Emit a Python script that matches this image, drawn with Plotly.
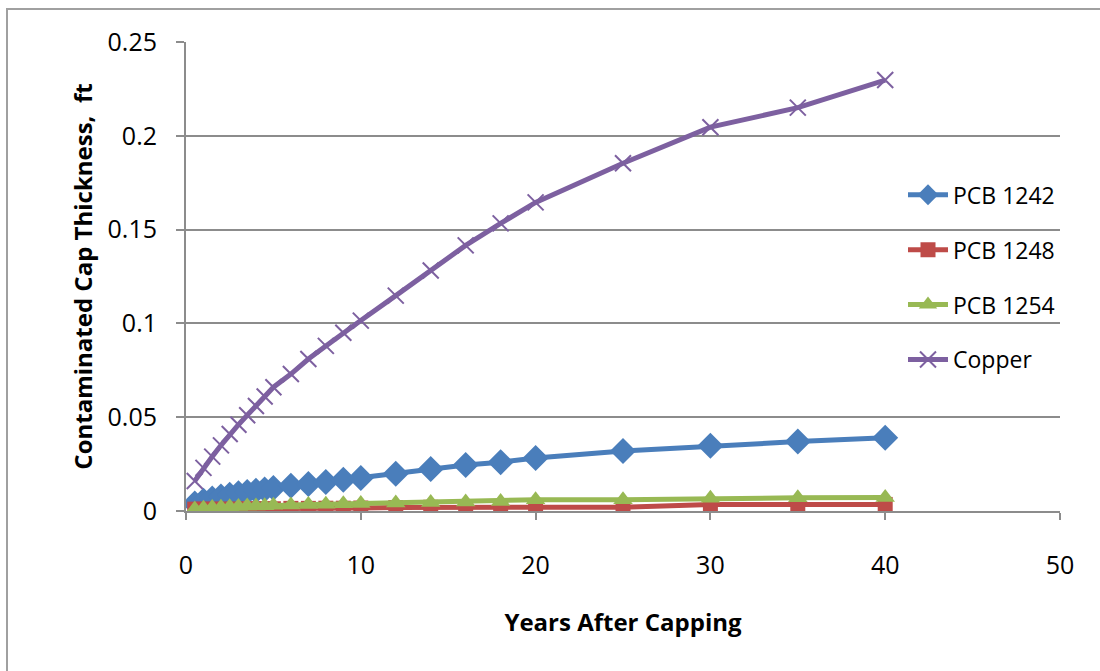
import plotly.graph_objects as go

# Years after capping at which each contaminant front was evaluated
years = [0.5, 1, 1.5, 2, 2.5, 3, 3.5, 4, 4.5, 5, 6, 7, 8, 9, 10,
         12, 14, 16, 18, 20, 25, 30, 35, 40]

# Contaminated cap thickness (ft)
pcb_1242 = [0.004, 0.0055, 0.0067, 0.0077, 0.0086, 0.0094, 0.0101, 0.0108, 0.0115, 0.0123,
            0.0134, 0.0144, 0.0155, 0.0166, 0.0176,
            0.0198, 0.0224, 0.0245, 0.026, 0.0282, 0.032, 0.0348, 0.037, 0.039]
pcb_1248 = [0.001, 0.001, 0.001, 0.001, 0.001, 0.001, 0.0012, 0.0012, 0.0012, 0.0012,
            0.0014, 0.0014, 0.0015, 0.0015, 0.0016,
            0.0018, 0.002, 0.002, 0.002, 0.002, 0.002, 0.0035, 0.0035, 0.0035]
pcb_1254 = [0.001, 0.0015, 0.0018, 0.002, 0.0022, 0.0024, 0.0026, 0.0027, 0.0028, 0.003,
            0.0032, 0.0034, 0.0036, 0.0038, 0.004,
            0.0042, 0.0045, 0.0048, 0.005, 0.006, 0.006, 0.0068, 0.007, 0.0072]
copper = [0.016, 0.023, 0.029, 0.035, 0.041, 0.046, 0.051, 0.056, 0.061, 0.066,
          0.073, 0.081, 0.088, 0.095, 0.1015,
          0.1148, 0.1282, 0.1416, 0.1533, 0.1645, 0.1854, 0.2046, 0.215, 0.2297]

series = [
    ("PCB 1242", pcb_1242, "#4A7EBB", "diamond", 20, 0),
    ("PCB 1248", pcb_1248, "#BE4B48", "square", 15, 0),
    ("PCB 1254", pcb_1254, "#98B954", "triangle-up", 17, 0),
    ("Copper", copper, "#7D60A0", "x-thin", 16, 2),
]

FONT = "Open Sans"
GRID = "#8C8C8C"

fig = go.Figure()
for name, vals, color, symbol, size, mlw in series:
    fig.add_trace(go.Scatter(
        x=years, y=vals, name=name, mode="lines+markers",
        legendgroup=name,
        line=dict(color=color, width=5),
        marker=dict(symbol=symbol, size=size, color=color,
                    line=dict(color=color, width=mlw)),
    ))

W, H = 1100, 671
ML, MR, MT, MB = 186, 40, 42, 160
pw, ph = W - ML - MR, H - MT - MB

fig.update_layout(
    width=W, height=H,
    margin=dict(l=ML, r=MR, t=MT, b=MB),
    paper_bgcolor="white", plot_bgcolor="white",
    font=dict(family=FONT, size=25, color="black"),
    showlegend=True,
    legend=dict(x=1.0, xanchor="right", y=0.72, yanchor="top",
                bgcolor="rgba(0,0,0,0)", font=dict(size=23, family=FONT),
                tracegroupgap=22, itemwidth=40),
    xaxis=dict(range=[0, 50], dtick=10, showgrid=False, zeroline=False,
               showline=True, linecolor=GRID, linewidth=2,
               ticks="outside", ticklen=7, tickcolor=GRID, tickwidth=2,
               ticklabelstandoff=24,
               title=dict(text="<b>Years After Capping</b>", standoff=34,
                          font=dict(size=24, family=FONT))),
    yaxis=dict(range=[0, 0.25], dtick=0.05, showgrid=True, gridcolor=GRID,
               gridwidth=2, zeroline=False,
               showline=True, linecolor=GRID, linewidth=2,
               ticks="outside", ticklen=8, tickcolor=GRID, tickwidth=2,
               ticklabelstandoff=14,
               title=dict(text="<b>Contaminated Cap Thickness,  ft</b>", standoff=8,
                          font=dict(size=24, family=FONT))),
)

# Chart frame around the whole figure
fig.add_shape(type="rect", xref="paper", yref="paper",
              x0=(7 - ML) / pw, x1=(W + 20 - ML) / pw,
              y0=-(MB + 20) / ph, y1=1 + (MT - 9) / ph,
              line=dict(color="#A0A0A0", width=2), fillcolor="rgba(0,0,0,0)",
              layer="below")

fig.write_html("out.html")
